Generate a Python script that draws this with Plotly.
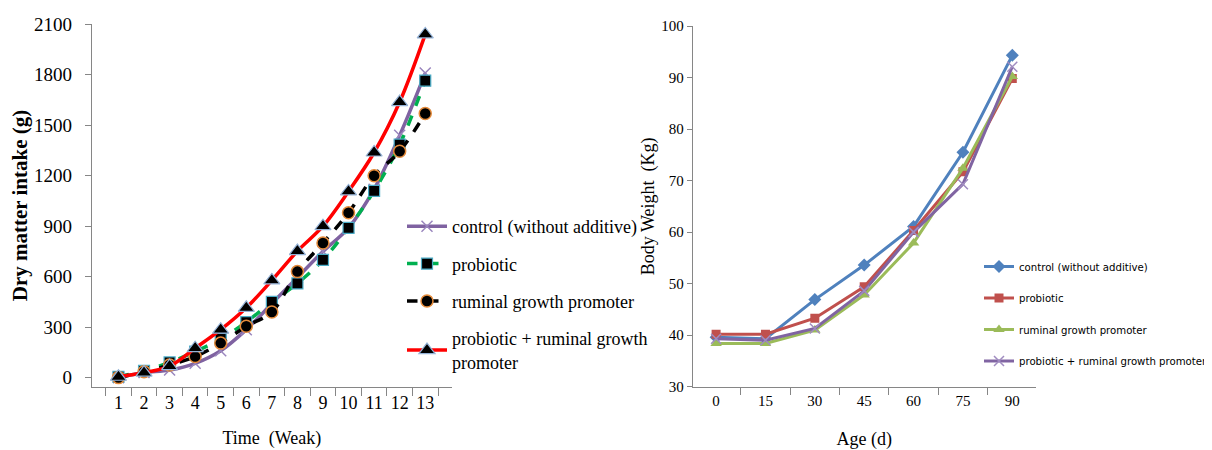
import plotly.graph_objects as go

# ---- Left chart data ----
weeks = [str(i) for i in range(1, 14)]
dmi_control = [0, 30, 45, 85, 160, 285, 440, 595, 750, 890, 1120, 1440, 1810]
dmi_probiotic = [5, 40, 90, 155, 230, 330, 450, 560, 700, 890, 1110, 1385, 1765]
dmi_ruminal = [0, 35, 75, 125, 205, 305, 390, 630, 800, 980, 1200, 1345, 1570]
dmi_combined = [5, 30, 68, 175, 285, 415, 578, 752, 900, 1107, 1338, 1638, 2040]
left_yticks = [0, 300, 600, 900, 1200, 1500, 1800, 2100]

# ---- Right chart data ----
ages = ["0", "15", "30", "45", "60", "75", "90"]
bw_control = [39.6, 39.3, 46.9, 53.6, 61.1, 75.5, 94.3]
bw_probiotic = [40.2, 40.2, 43.3, 49.4, 60.3, 71.7, 89.8]
bw_ruminal = [38.4, 38.4, 41.0, 47.8, 57.9, 72.4, 90.2]
bw_combined = [39.3, 39.0, 41.3, 48.6, 60.0, 69.3, 92.1]
right_yticks = [30, 40, 50, 60, 70, 80, 90, 100]

names = ["control (without additive)", "probiotic", "ruminal growth promoter",
         "probiotic + ruminal growth<br>promoter"]
rnames = ["control (without additive)", "probiotic", "ruminal growth promoter",
          "probiotic + ruminal growth promoter"]

fig = go.Figure()

# Left chart traces
fig.add_trace(go.Scatter(x=weeks, y=dmi_control, name=names[0], mode="lines+markers",
    line=dict(color="#7F62A1", width=3.5, shape="spline"),
    marker=dict(symbol="x-thin", size=11, line=dict(color="#9A86BE", width=1.5)),
    xaxis="x", yaxis="y", legend="legend", legendgroup="a"))
fig.add_trace(go.Scatter(x=weeks, y=dmi_probiotic, name=names[1], mode="lines+markers",
    line=dict(color="#00B050", width=3.5, dash="dash", shape="spline"),
    marker=dict(symbol="square", size=11, color="black", line=dict(color="#4BACC6", width=1.2)),
    xaxis="x", yaxis="y", legend="legend", legendgroup="b"))
fig.add_trace(go.Scatter(x=weeks, y=dmi_ruminal, name=names[2], mode="lines+markers",
    line=dict(color="black", width=3.5, dash="dash", shape="spline"),
    marker=dict(symbol="circle", size=12, color="black", line=dict(color="#E48A3A", width=1.5)),
    xaxis="x", yaxis="y", legend="legend", legendgroup="c"))
fig.add_trace(go.Scatter(x=weeks, y=dmi_combined, name=names[3], mode="lines+markers",
    line=dict(color="#FF0000", width=3.5, shape="spline"),
    marker=dict(symbol="triangle-up", size=14, color="black", line=dict(color="#95B3D7", width=1.2)),
    xaxis="x", yaxis="y", legend="legend", legendgroup="d"))

# Right chart traces
fig.add_trace(go.Scatter(x=ages, y=bw_control, name=rnames[0], mode="lines+markers",
    line=dict(color="#4F81BD", width=3), marker=dict(symbol="diamond", size=10, color="#4F81BD"),
    xaxis="x2", yaxis="y2", legend="legend2", legendgroup="e"))
fig.add_trace(go.Scatter(x=ages, y=bw_probiotic, name=rnames[1], mode="lines+markers",
    line=dict(color="#C0504D", width=3), marker=dict(symbol="square", size=9, color="#C0504D"),
    xaxis="x2", yaxis="y2", legend="legend2", legendgroup="f"))
fig.add_trace(go.Scatter(x=ages, y=bw_ruminal, name=rnames[2], mode="lines+markers",
    line=dict(color="#9BBB59", width=3), marker=dict(symbol="triangle-up", size=10, color="#9BBB59"),
    xaxis="x2", yaxis="y2", legend="legend2", legendgroup="g"))
fig.add_trace(go.Scatter(x=ages, y=bw_combined, name=rnames[3], mode="lines+markers",
    line=dict(color="#8064A2", width=3), marker=dict(symbol="x-thin", size=10, line=dict(color="#A08CC0", width=1.5)),
    xaxis="x2", yaxis="y2", legend="legend2", legendgroup="h"))

axis_gray = "#868686"
serif = "Liberation Serif"

# The page body adds an 8px offset, so the figure is 1204x442 and positions are shifted by 8px.
W, H = 1204, 442
def dx(px):
    return (px - 8) / W
def dy(py):
    return (450 - py) / H

fig.update_layout(
    width=W, height=H,
    margin=dict(l=0, r=0, t=0, b=0, autoexpand=False),
    paper_bgcolor="white", plot_bgcolor="white",
    font=dict(family=serif, color="black"),
    xaxis=dict(domain=[dx(91.7), dx(452)], type="category", tickson="boundaries",
               ticks="outside", ticklen=8, tickcolor=axis_gray, showline=True, linecolor=axis_gray,
               linewidth=1, showgrid=False, zeroline=False, tickangle=0, automargin=False,
               tickfont=dict(family=serif, size=18),
               title=dict(text="Time  (Weak)", font=dict(family=serif, size=18), standoff=19)),
    yaxis=dict(domain=[dy(386.7), dy(24.3)], range=[-54, 2100],
               tickvals=left_yticks, ticks="outside", ticklen=6, tickcolor=axis_gray,
               ticklabelstandoff=9, automargin=False,
               showline=True, linecolor=axis_gray, showgrid=False, zeroline=False,
               tickfont=dict(family=serif, size=19),
               title=dict(text="<b>Dry matter intake (g)</b>", font=dict(family=serif, size=21), standoff=4)),
    xaxis2=dict(domain=[dx(692.7), dx(1035.7)], type="category", tickson="boundaries",
                ticks="outside", ticklen=7, tickcolor=axis_gray, showline=True, linecolor=axis_gray,
                showgrid=False, zeroline=False, anchor="y2", tickangle=0, automargin=False,
                tickfont=dict(family=serif, size=15),
                title=dict(text="Age (d)", font=dict(family=serif, size=18), standoff=24)),
    yaxis2=dict(domain=[dy(386.7), dy(26)], range=[30, 100], anchor="x2",
                tickvals=right_yticks, ticks="outside", ticklen=5, tickcolor=axis_gray,
                showline=True, linecolor=axis_gray, showgrid=False, zeroline=False, automargin=False,
                tickfont=dict(family=serif, size=15),
                title=dict(text="Body Weight  (Kg)", font=dict(family=serif, size=18), standoff=1)),
    legend=dict(x=dx(402), y=dy(208), xanchor="left", yanchor="top",
                bgcolor="rgba(0,0,0,0)", font=dict(family=serif, size=18),
                tracegroupgap=11, itemwidth=40),
    legend2=dict(x=dx(979), y=dy(252), xanchor="left", yanchor="top",
                 bgcolor="rgba(0,0,0,0)", font=dict(family="DejaVu Sans Condensed, sans-serif", size=11.3),
                 tracegroupgap=12.5, itemwidth=30),
    showlegend=True,
)

fig.write_html("out.html")
